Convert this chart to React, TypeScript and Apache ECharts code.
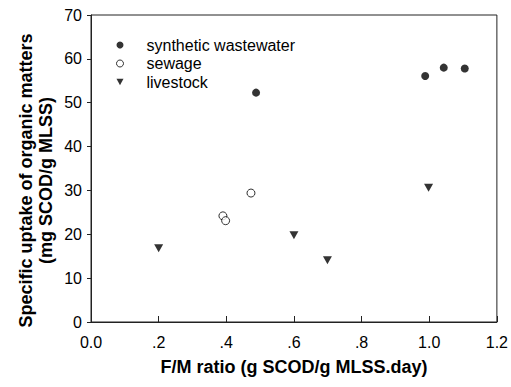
import React, { useEffect, useRef } from "react";
import * as echarts from "echarts";

const syntheticX = [0.488, 0.988, 1.043, 1.105];
const syntheticY = [52.3, 56.1, 58.0, 57.8];
const sewageX = [0.39, 0.398, 0.473];
const sewageY = [24.2, 23.1, 29.4];
const livestockX = [0.2, 0.6, 0.699, 0.998];
const livestockY = [16.8, 19.8, 14.1, 30.6];
const seriesNames = ["synthetic wastewater", "sewage", "livestock"];

const FONT = "Liberation Sans, Arial, sans-serif";
const DOWN_TRI = "path://M0,0L10,0L5,9Z";

function pairs(xs: number[], ys: number[]) {
  return xs.map((x, i) => [x, ys[i]]);
}

export default function App() {
  const ref = useRef<HTMLDivElement>(null);
  useEffect(() => {
    if (!ref.current) return;
    const chart = echarts.init(ref.current, undefined, { renderer: "svg" });
    chart.setOption({
      animation: false,
      backgroundColor: "#fff",
      textStyle: { fontFamily: FONT },
      grid: {
        left: 91,
        right: 13,
        top: 15,
        bottom: 65,
        show: true,
        borderColor: "#222",
        borderWidth: 1,
        containLabel: false,
      },
      legend: {
        orient: "vertical",
        left: 111,
        top: 32,
        itemWidth: 7,
        itemHeight: 7,
        itemGap: 2.5,
        data: [
          { name: seriesNames[0], icon: "circle", itemStyle: { color: "#000" } },
          {
            name: seriesNames[1],
            icon: "circle",
            itemStyle: { color: "#fff", borderColor: "#000", borderWidth: 1 },
          },
          { name: seriesNames[2], icon: DOWN_TRI, itemStyle: { color: "#000" } },
        ],
        textStyle: {
          fontFamily: FONT,
          fontSize: 16,
          color: "#000",
          padding: [0, 0, 0, 18],
        },
      },
      xAxis: {
        type: "value",
        min: 0,
        max: 1.2,
        interval: 0.2,
        name: "F/M ratio (g SCOD/g MLSS.day)",
        nameLocation: "middle",
        nameGap: 36,
        nameMoveOverlap: false,
        nameTextStyle: { fontFamily: FONT, fontSize: 18, fontWeight: "bold", color: "#000" },
        axisLine: { show: true, lineStyle: { color: "#222", width: 1 } },
        axisTick: { show: true, inside: true, length: 6, lineStyle: { color: "#222" } },
        splitLine: { show: false },
        axisLabel: {
          fontFamily: FONT,
          fontSize: 16,
          color: "#000",
          margin: 12,
          formatter: (v: number) => {
            const s = v.toFixed(1);
            if (v > 0 && v < 1) return s.slice(1);
            return s;
          },
        },
      },
      yAxis: {
        type: "value",
        min: 0,
        max: 70,
        interval: 10,
        name: "Specific uptake of organic matters\n(mg SCOD/g MLSS)",
        nameLocation: "middle",
        nameGap: 35,
        nameMoveOverlap: false,
        nameTextStyle: {
          fontFamily: FONT,
          fontSize: 18,
          fontWeight: "bold",
          color: "#000",
          lineHeight: 20,
          align: "center",
          padding: [0, 24, 0, 0],
        },
        axisLine: { show: true, lineStyle: { color: "#222", width: 1 } },
        axisTick: { show: true, inside: false, length: 4, lineStyle: { color: "#222" } },
        splitLine: { show: false },
        axisLabel: { fontFamily: FONT, fontSize: 16, color: "#000", margin: 9 },
      },
      series: [
        {
          name: seriesNames[0],
          type: "scatter",
          symbol: "circle",
          symbolSize: 8,
          itemStyle: { color: "#000" },
          data: pairs(syntheticX, syntheticY),
        },
        {
          name: seriesNames[1],
          type: "scatter",
          symbol: "circle",
          symbolSize: 8,
          itemStyle: { color: "#fff", borderColor: "#000", borderWidth: 1 },
          data: pairs(sewageX, sewageY),
        },
        {
          name: seriesNames[2],
          type: "scatter",
          symbol: "triangle",
          symbolRotate: 180,
          symbolSize: [9, 8],
          itemStyle: { color: "#000" },
          data: pairs(livestockX, livestockY),
        },
      ],
    });
    return () => chart.dispose();
  }, []);
  return <div ref={ref} style={{ width: 511, height: 387, position: "absolute", left: 0, top: 0 }} />;
}
